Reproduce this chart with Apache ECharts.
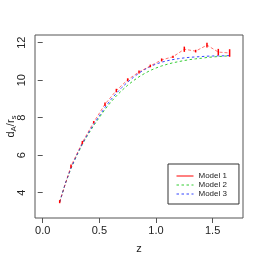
<!DOCTYPE html>
<html><head><meta charset="utf-8">
<script src="https://cdn.jsdelivr.net/npm/echarts@6/dist/echarts.min.js"></script>
<style>html,body{margin:0;padding:0;background:#fff}#c{width:263px;height:263px}</style>
</head><body><div id="c"></div>
<script>
// Model curves sampled in z
const zGrid = [0.15,0.20,0.25,0.30,0.35,0.40,0.45,0.50,0.55,0.60,0.65,0.70,0.75,0.80,0.85,0.90,0.95,1.00,1.05,1.10,1.15,1.20,1.25,1.30,1.35,1.40,1.45,1.50,1.55,1.60,1.65];
const model3 = [3.50,4.50,5.32,6.00,6.62,7.15,7.65,8.10,8.55,8.95,9.30,9.62,9.90,10.15,10.38,10.57,10.73,10.86,10.96,11.04,11.10,11.15,11.19,11.22,11.24,11.26,11.28,11.29,11.30,11.30,11.31];
const model2 = [3.50,4.49,5.30,5.97,6.58,7.10,7.58,8.01,8.44,8.82,9.16,9.46,9.73,9.97,10.18,10.36,10.52,10.65,10.76,10.85,10.93,10.99,11.05,11.10,11.14,11.17,11.21,11.24,11.26,11.28,11.30];
// Model 1 (red) points with error half-widths
const z1 = [0.15,0.25,0.35,0.45,0.55,0.65,0.75,0.85,0.95,1.05,1.15,1.25,1.35,1.45,1.55,1.65];
const model1 = [3.52,5.42,6.68,7.76,8.72,9.45,10.02,10.44,10.76,11.08,11.25,11.65,11.55,11.87,11.50,11.45];
const err1 = [0.08,0.09,0.08,0.06,0.09,0.09,0.08,0.08,0.07,0.08,0.06,0.14,0.07,0.13,0.17,0.20];
const xTicks = [0,0.5,1,1.5];
const yTicks = [4,6,8,10,12];
const names = ['Model 1','Model 2','Model 3'];
const colors = ['#ff0000','#33cc33','#3344ff'];

const chart = echarts.init(document.getElementById('c'));
const pair = (xs, ys) => xs.map((x,i)=>[x, ys[i]]);
const errData = z1.map((z,i)=>[z, model1[i]-err1[i], model1[i]+err1[i]]);
const axisCol = '#555';
const dash = [2.5,2.5];
chart.setOption({
  animation:false,
  textStyle:{fontFamily:'Liberation Sans, Arial, sans-serif'},
  grid:{left:35,right:20,top:35,bottom:45,show:true,borderColor:axisCol,borderWidth:1,outerBoundsMode:'none',containLabel:false},
  xAxis:{type:'value',min:-0.068,max:1.768,
    name:'z',nameLocation:'middle',nameGap:25,nameMoveOverlap:false,nameTextStyle:{fontSize:11,color:'#222'},
    axisLine:{show:false},splitLine:{show:false},
    axisTick:{show:true,length:5,lineStyle:{color:axisCol},customValues:xTicks},
    axisLabel:{fontSize:11,color:'#222',margin:7,customValues:xTicks,formatter:v=>v.toFixed(1)}},
  yAxis:{type:'value',min:2.65,max:12.41,
    name:'{a|d}{b|A}{a|/r}{b|s}',nameLocation:'middle',nameGap:17,nameRotate:90,nameMoveOverlap:false,
    nameTextStyle:{color:'#222',rich:{a:{fontSize:11,lineHeight:14,color:'#222'},b:{fontSize:8,lineHeight:14,verticalAlign:'bottom',padding:[5,0,0,0],color:'#222'}}},
    axisLine:{show:false},splitLine:{show:false},
    axisTick:{show:true,length:5,lineStyle:{color:axisCol},customValues:yTicks},
    axisLabel:{fontSize:11,color:'#222',rotate:90,margin:8,customValues:yTicks}},
  legend:{show:true,type:'plain',orient:'vertical',left:168,top:164,padding:[8,12,6,8],itemGap:1,itemWidth:17,itemHeight:8,
    borderColor:'#333',borderWidth:1,textStyle:{fontSize:8,color:'#222'},
    itemStyle:{color:'rgba(0,0,0,0)',borderWidth:0,opacity:0},
    data:[
      {name:names[0],lineStyle:{type:'solid',color:colors[0],width:1}},
      {name:names[1],lineStyle:{type:dash,color:colors[1],width:1}},
      {name:names[2],lineStyle:{type:dash,color:colors[2],width:1}}]},
  series:[
    {name:names[0],type:'line',data:pair(z1,model1),showSymbol:false,symbol:'none',
     lineStyle:{color:'rgba(255,0,0,0.55)',width:1,type:[3,2]},itemStyle:{color:colors[0]},z:3},
    {name:names[1],type:'line',data:pair(zGrid,model2),showSymbol:false,symbol:'none',
     lineStyle:{color:colors[1],width:1,type:dash},itemStyle:{color:colors[1]},z:2},
    {name:names[2],type:'line',data:pair(zGrid,model3),showSymbol:false,symbol:'none',
     lineStyle:{color:colors[2],width:1,type:dash},itemStyle:{color:colors[2]},z:2},
    {name:'err',type:'custom',data:errData,encode:{x:0,y:[1,2]},z:4,
     renderItem:function(params,api){
       const p1=api.coord([api.value(0),api.value(1)]);
       const p2=api.coord([api.value(0),api.value(2)]);
       return {type:'line',shape:{x1:p1[0],y1:p1[1],x2:p2[0],y2:p2[1]},style:{stroke:'#ff0000',lineWidth:1.5}};
     }}
  ]
});
</script></body></html>
